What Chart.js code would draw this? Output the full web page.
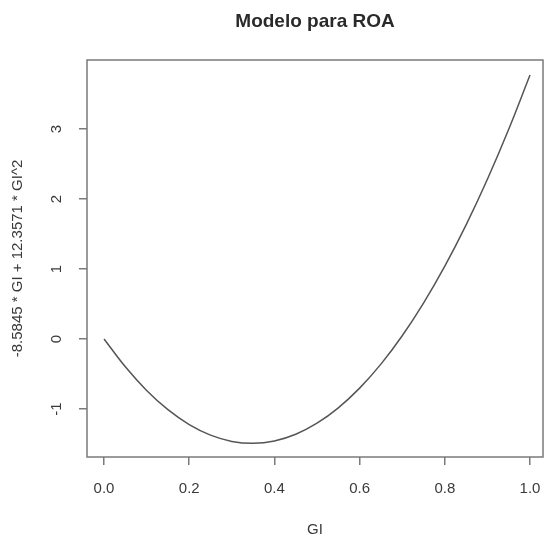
<!DOCTYPE html>
<html><head><meta charset="utf-8">
<script src="https://cdn.jsdelivr.net/npm/chart.js@4/dist/chart.umd.min.js"></script>
<style>html,body{margin:0;padding:0;background:#fff}#wrap{width:545px;height:539px}</style>
</head><body><div id="wrap"><canvas id="c" width="545" height="539"></canvas></div>
<script>
const chartTitle = "Modelo para ROA";
const xAxisTitle = "GI";
const yAxisTitle = "-8.5845 * GI + 12.3571 * GI^2";
const giValues = [0, 0.05, 0.10, 0.15, 0.20, 0.25, 0.30, 0.35, 0.40, 0.45, 0.50, 0.55, 0.60, 0.65, 0.70, 0.75, 0.80, 0.85, 0.90, 0.95, 1.00];
const roaValues = [0, -0.398, -0.735, -1.010, -1.223, -1.374, -1.463, -1.491, -1.457, -1.361, -1.203, -0.984, -0.702, -0.359, 0.046, 0.513, 1.041, 1.631, 2.283, 2.997, 3.773];
const xTickValues = [0, 0.2, 0.4, 0.6, 0.8, 1.0];
const xTickLabels = ["0.0", "0.2", "0.4", "0.6", "0.8", "1.0"];
const yTickValues = [-1, 0, 1, 2, 3];
const yTickLabels = ["-1", "0", "1", "2", "3"];

const FONT = '"Liberation Sans", Arial, Helvetica, sans-serif';

const rStyle = {
  id: 'rStyle',
  afterDraw(chart) {
    const ctx = chart.ctx, a = chart.chartArea;
    const xs = chart.scales.x, ys = chart.scales.y;
    ctx.save();
    ctx.strokeStyle = '#7a7a7a';
    ctx.lineWidth = 1.5;
    ctx.strokeRect(a.left, a.top, a.right - a.left, a.bottom - a.top);
    ctx.fillStyle = '#2a2a2a';
    ctx.font = 'bold 19px ' + FONT;
    ctx.textAlign = 'center';
    ctx.textBaseline = 'middle';
    ctx.fillText(chartTitle, (a.left + a.right) / 2, 22);
    ctx.fillStyle = '#3a3a3a';
    ctx.font = '15px ' + FONT;
    xTickValues.forEach((v, i) => {
      ctx.fillText(xTickLabels[i], xs.getPixelForValue(v), 489);
    });
    ctx.fillText(xAxisTitle, (a.left + a.right) / 2, 530);
    yTickValues.forEach((v, i) => {
      ctx.save();
      ctx.translate(57, ys.getPixelForValue(v));
      ctx.rotate(-Math.PI / 2);
      ctx.fillText(yTickLabels[i], 0, 0);
      ctx.restore();
    });
    ctx.save();
    ctx.translate(18, (a.top + a.bottom) / 2);
    ctx.rotate(-Math.PI / 2);
    ctx.fillText(yAxisTitle, 0, 0);
    ctx.restore();
    ctx.restore();
  }
};

new Chart(document.getElementById('c'), {
  type: 'scatter',
  data: {
    datasets: [{
      data: giValues.map((x, i) => ({ x: x, y: roaValues[i] })),
      showLine: true,
      borderColor: '#555555',
      borderWidth: 1.5,
      pointRadius: 0,
      tension: 0.4,
      fill: false
    }]
  },
  options: {
    responsive: false,
    devicePixelRatio: 1,
    animation: false,
    layout: { padding: { top: 60, right: 2, left: 0, bottom: 0 } },
    plugins: { legend: { display: false }, tooltip: { enabled: false }, title: { display: false } },
    scales: {
      x: {
        type: 'linear', min: -0.040, max: 1.0305,
        afterBuildTicks: s => { s.ticks = xTickValues.map(v => ({ value: v })); },
        afterFit: s => { s.height = 82; },
        ticks: { display: false },
        grid: { drawOnChartArea: false, drawTicks: true, tickLength: 8, color: '#7a7a7a', lineWidth: 1.5 },
        border: { display: false }
      },
      y: {
        type: 'linear', min: -1.686, max: 3.986,
        afterBuildTicks: s => { s.ticks = yTickValues.map(v => ({ value: v })); },
        afterFit: s => { s.width = 87; },
        ticks: { display: false },
        grid: { drawOnChartArea: false, drawTicks: true, tickLength: 8, color: '#7a7a7a', lineWidth: 1.5 },
        border: { display: false }
      }
    }
  },
  plugins: [rStyle]
});
</script>
</body></html>
